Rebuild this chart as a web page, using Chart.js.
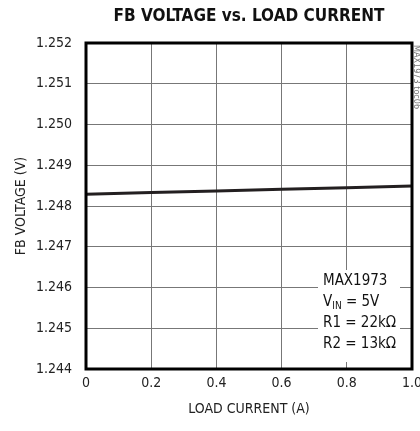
<!DOCTYPE html>
<html lang="en">
<head>
    <meta charset="UTF-8">
    <title>FB Voltage vs. Load Current</title>
    <script src="https://cdn.jsdelivr.net/npm/chart.js"></script>
    <style>
        body { margin: 0; background: #fff; }
        #wrap { width: 420px; height: 431px; }
    </style>
</head>
<body>
    <div id="wrap"><canvas id="fbChart" width="420" height="431"></canvas></div>

    <script>
        // data
        const loadCurrent = [0, 0.2, 0.4, 0.6, 0.8, 1.0];
        const fbVoltage = [1.24829, 1.24833, 1.24837, 1.24841, 1.24845, 1.24849];
        const xTicks = [0, 0.2, 0.4, 0.6, 0.8, 1.0];
        const yTicks = [1.244, 1.245, 1.246, 1.247, 1.248, 1.249, 1.250, 1.251, 1.252];
        const noteLines = ['MAX1973', 'V|IN| = 5V', 'R1 = 22kΩ', 'R2 = 13kΩ'];

        const FONT = "'Liberation Sans Narrow', 'DejaVu Sans Condensed', sans-serif";

        // title, border box, note box and side tag
        const decor = {
            id: 'decor',
            beforeDatasetsDraw(chart) {
                const { ctx, chartArea: a } = chart;
                // white box behind the note text
                ctx.save();
                ctx.fillStyle = '#fff';
                ctx.fillRect(a.right - 94, a.bottom - 99, 82, 92);
                ctx.restore();
            },
            afterDraw(chart) {
                const { ctx, chartArea: a } = chart;
                ctx.save();
                ctx.strokeStyle = '#000';
                ctx.lineWidth = 3;
                ctx.strokeRect(a.left, a.top, a.right - a.left, a.bottom - a.top);

                ctx.fillStyle = '#111';
                ctx.font = "bold 17px " + FONT;
                ctx.textAlign = 'center';
                ctx.textBaseline = 'middle';
                ctx.fillText('FB VOLTAGE vs. LOAD CURRENT', (a.left + a.right) / 2, 17);

                // note text
                ctx.textAlign = 'left';
                let y = a.bottom - 88;
                const x = a.right - 89;
                noteLines.forEach(line => {
                    const parts = line.split('|');
                    let cx = x;
                    parts.forEach((p, i) => {
                        if (i === 1) {
                            ctx.font = "10px " + FONT;
                            ctx.fillText(p, cx, y + 4);
                        } else {
                            ctx.font = "15px " + FONT;
                            ctx.fillText(p, cx, y);
                        }
                        cx += ctx.measureText(p).width;
                    });
                    y += 21;
                });

                // side tag
                ctx.translate(chart.width - 4, a.top + 2);
                ctx.rotate(Math.PI / 2);
                ctx.font = "9px " + FONT;
                ctx.fillStyle = '#777';
                ctx.textBaseline = 'middle';
                ctx.fillText('MAX1973 toc06', 0, 0);
                ctx.restore();
            }
        };

        new Chart(document.getElementById('fbChart'), {
            type: 'line',
            data: {
                datasets: [{
                    data: loadCurrent.map((x, i) => ({ x: x, y: fbVoltage[i] })),
                    borderColor: '#231f20',
                    borderWidth: 3,
                    pointRadius: 0,
                    fill: false,
                    tension: 0
                }]
            },
            options: {
                responsive: false,
                animation: false,
                layout: { padding: { top: 43, right: 8, left: 0, bottom: 0 } },
                plugins: {
                    legend: { display: false },
                    tooltip: { enabled: false }
                },
                scales: {
                    x: {
                        type: 'linear',
                        min: 0,
                        max: 1.0,
                        afterBuildTicks: s => { s.ticks = xTicks.map(v => ({ value: v })); },
                        afterFit: s => { s.height = 62; s.paddingLeft = 0; s.paddingRight = 0; },
                        grid: { color: '#777', lineWidth: 1, drawTicks: false },
                        border: { display: false },
                        ticks: {
                            padding: 6,
                            color: '#222',
                            font: { family: FONT, size: 14 },
                            callback: v => v === 0 ? '0' : v.toFixed(1)
                        },
                        title: {
                            display: true,
                            text: 'LOAD CURRENT (A)',
                            color: '#222',
                            font: { family: FONT, size: 14 },
                            padding: { top: 0, bottom: 13 }
                        }
                    },
                    y: {
                        min: 1.244,
                        max: 1.252,
                        afterBuildTicks: s => { s.ticks = yTicks.map(v => ({ value: v })); },
                        afterFit: s => { s.width = 86; s.paddingTop = 0; s.paddingBottom = 0; },
                        grid: { color: '#777', lineWidth: 1, drawTicks: false },
                        border: { display: false },
                        ticks: {
                            padding: 14,
                            color: '#222',
                            font: { family: FONT, size: 14 },
                            callback: v => v.toFixed(3)
                        },
                        title: {
                            display: true,
                            text: 'FB VOLTAGE (V)',
                            color: '#222',
                            font: { family: FONT, size: 14 },
                            padding: { top: 13, bottom: 0 }
                        }
                    }
                }
            },
            plugins: [decor]
        });
    </script>
</body>
</html>
